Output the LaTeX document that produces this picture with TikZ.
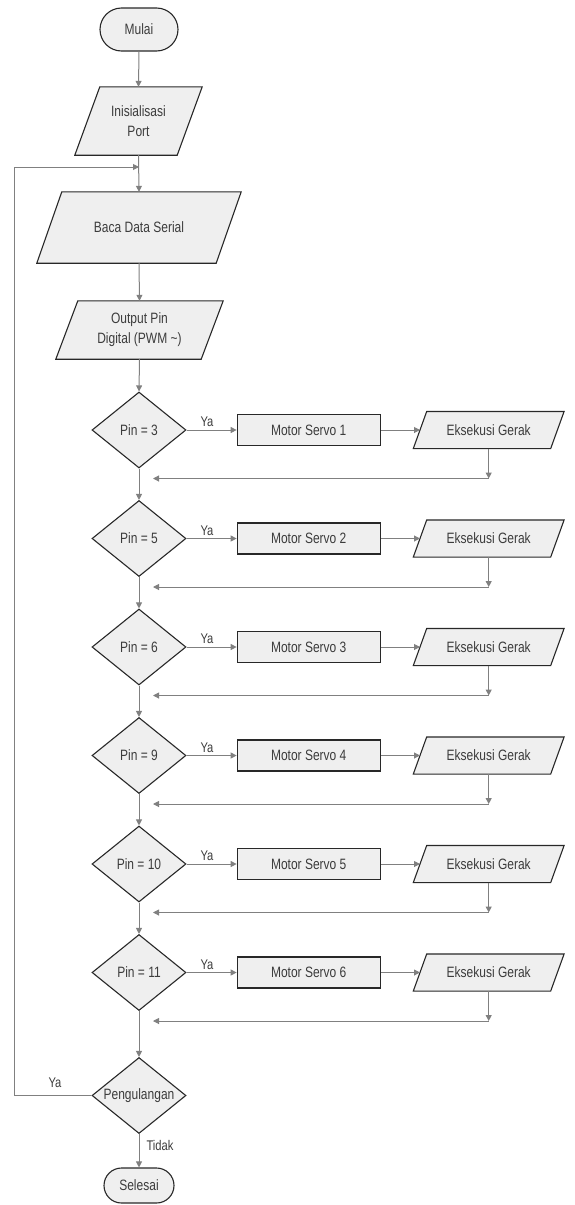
\documentclass[tikz,border=0pt]{standalone}
\usepackage{fontspec}
\setmainfont[FakeStretch=0.8]{Liberation Sans}
\usetikzlibrary{shapes.geometric,shapes.misc,arrows.meta,backgrounds}
\definecolor{fillc}{RGB}{239,239,239}
\definecolor{linec}{RGB}{40,40,40}
\definecolor{connc}{RGB}{128,128,128}
\definecolor{textc}{RGB}{60,60,60}
\newcommand\paraoutline[2]{%
  \begin{scope}[on background layer]
    \draw[boxline] ([xshift=#2]#1.north west) -- ([xshift=#2]#1.north east)
      -- ([xshift=-#2]#1.south east) -- ([xshift=-#2]#1.south west) -- cycle;
  \end{scope}}
\begin{document}
\begin{tikzpicture}[x=1pt,y=-1pt,
  every node/.style={font=\fontsize{15}{20}\selectfont, text=textc, inner sep=0pt},
  boxline/.style={draw=linec, line width=1.1pt, fill=fillc},
  term/.style={rounded rectangle, boxline},
  procbox/.style={rectangle, boxline, minimum width=143, minimum height=31},
  paratext/.style={rectangle, align=center},
  decision/.style={diamond, boxline, minimum width=94, minimum height=76},
  conn/.style={draw=connc, line width=1pt, -{Triangle[length=6pt,width=6pt]}},
  lbl/.style={font=\fontsize{14}{15}\selectfont}]
\useasboundingbox (0,0) rectangle (574,1205);

% top part
\node[term, minimum width=78, minimum height=43] (start) at (139,29.5) {Mulai};
\node[paratext, minimum width=102, minimum height=68] (init) at (138.5,121) {Inisialisasi\\Port};
\paraoutline{init}{12.5}
\node[paratext, minimum width=179, minimum height=71] (baca) at (139,227.5) {Baca Data Serial};
\paraoutline{baca}{12.5}
\node[paratext, minimum width=145, minimum height=58] (out) at (139.5,330) {Output Pin\\Digital (PWM \textasciitilde)};
\paraoutline{out}{11}

\coordinate (join) at (139,167);
\draw[conn] (start.south) -- (init.north);
\draw[conn] (init.south) -- (baca.north);
\draw[conn] (baca.south) -- (out.north);

% rows
\foreach \p [count=\i] in {3,5,6,9,10,11} {
  \pgfmathsetmacro\yc{430+108.5*(\i-1)}
  \node[decision, label=center:{Pin = \p}] (d\i) at (139,\yc) {};
  \node[procbox] (m\i) at (308.7,\yc) {Motor Servo \i};
  \node[paratext, minimum width=137, minimum height=36.7] (e\i) at (488.7,\yc) {Eksekusi Gerak};
  \paraoutline{e\i}{6.7}
  \draw[conn] (d\i.east) -- (m\i.west);
  \node[lbl] (ya\i) at (207,\yc-8) {Ya};
  \draw[conn] (m\i.east) -- (e\i.west);
  \coordinate (r\i) at (153,\yc+48.5);
  \coordinate (c\i) at (e\i.south |- r\i);
  \draw[conn] (e\i.south) -- (c\i);
  \draw[conn] (c\i) -- (r\i);
}
\draw[conn] (out.south) -- (d1.north);
\foreach \i [evaluate=\i as \j using int(\i+1)] in {1,...,5}
  \draw[conn] (d\i.south) -- (d\j.north);

% bottom
\node[decision, label=center:{Pengulangan}] (peng) at (139,1095.5) {};
\node[term, minimum width=70, minimum height=35] (end) at (139,1185.5) {Selesai};
\draw[conn] (d6.south) -- (peng.north);
\draw[conn] (peng.south) -- (end.north);
\node[lbl] (tidak) at (160,1145) {Tidak};
\node[lbl] (yaloop) at (55,1083) {Ya};
\draw[conn] (peng.west) -- ++(-77,0) |- (join);
\end{tikzpicture}
\end{document}
